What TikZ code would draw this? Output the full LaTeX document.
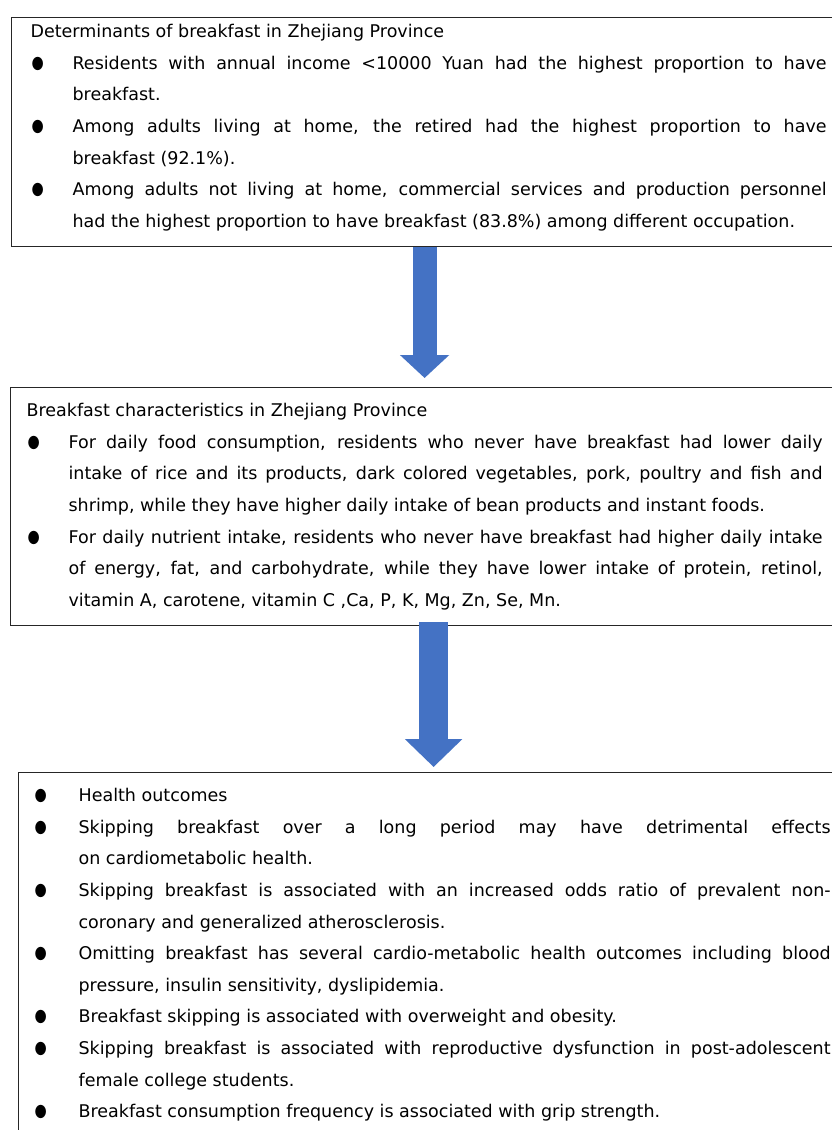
\documentclass[tikz,border=0pt]{standalone}
\usepackage{fontspec}
\setmainfont{DejaVu Sans}
\usepackage{graphicx}
\usetikzlibrary{arrows.meta}
\definecolor{arrowblue}{HTML}{4472C4}
\tikzset{
  textbox/.style={draw=black!85, line width=1.2pt, anchor=north west, inner ysep=0pt,
    align=justify, font=\fontsize{17.5}{31.6}\selectfont},
  downarrow/.style n args={3}{draw=arrowblue, line width=#1,
    -{Triangle[width=#2,length=#3]}},
}
\newcommand{\dotgap}{1pt}
\newcommand{\dotlabel}{\raisebox{1pt}{\scalebox{0.8}[1]{●}}}
\newcommand{\entry}[1]{\noindent\hangindent=42pt\hangafter=1%
  \makebox[42pt][l]{\hspace{\dotgap}\dotlabel}#1\par}
\tolerance=10000 \hyphenpenalty=10000 \exhyphenpenalty=10000
\begin{document}
\begin{tikzpicture}[x=1pt, y=-1pt]
  \useasboundingbox (0,0) rectangle (832,1130);
  \node[textbox, inner xsep=19pt, text width=796pt, text height=20pt, text depth=209pt]
    (determinants) at (11,17) {Determinants of breakfast in Zhejiang Province\par
    \entry{Residents with annual income <10000 Yuan had the highest proportion to have\linebreak
      breakfast.}
    \entry{Among adults living at home, the retired had the highest proportion to have\linebreak
      breakfast (92.1\%).}
    \entry{Among adults not living at home, commercial services and production personnel\linebreak
      had the highest proportion to have breakfast (83.8\%) among different occupation.}};
  \node[textbox, inner xsep=16pt, text width=796pt, text height=29.3pt, text depth=209pt]
    (characteristics) at (10,386.7) {Breakfast characteristics in Zhejiang Province\par
    \entry{For daily food consumption, residents who never have breakfast had lower daily\linebreak
      intake of rice and its products, dark colored vegetables, pork, poultry and fish and\linebreak
      shrimp, while they have higher daily intake of bean products and instant foods.}
    \entry{For daily nutrient intake, residents who never have breakfast had higher daily intake\linebreak
      of energy, fat, and carbohydrate, while they have lower intake of protein, retinol,\linebreak
      vitamin A, carotene, vitamin C ,Ca, P, K, Mg, Zn, Se, Mn.}};
  \node[textbox, inner xsep=18pt, text width=794pt, text height=29pt, text depth=360pt]
    (outcomes) at (18,772) {\renewcommand{\dotgap}{-2pt}%
    \entry{Health outcomes}
    \entry{Skipping breakfast over a long period may have detrimental effects\linebreak
      on cardiometabolic health.}
    \entry{Skipping breakfast is associated with an increased odds ratio of prevalent non-\linebreak
      coronary and generalized atherosclerosis.}
    \entry{Omitting breakfast has several cardio-metabolic health outcomes including blood\linebreak
      pressure, insulin sensitivity, dyslipidemia.}
    \entry{Breakfast skipping is associated with overweight and obesity.}
    \entry{Skipping breakfast is associated with reproductive dysfunction in post-adolescent\linebreak
      female college students.}
    \entry{Breakfast consumption frequency is associated with grip strength.}};
  % arrows between the boxes
  \draw[downarrow={24pt}{48pt}{23pt}, shorten >=8.7pt]
    ([xshift=-4pt]determinants.south) -- (characteristics.north);
  \draw[downarrow={29pt}{56pt}{28pt}, shorten <=-4pt, shorten >=5pt]
    ([xshift=9pt]characteristics.south) -- (outcomes.north);
\end{tikzpicture}
\end{document}
